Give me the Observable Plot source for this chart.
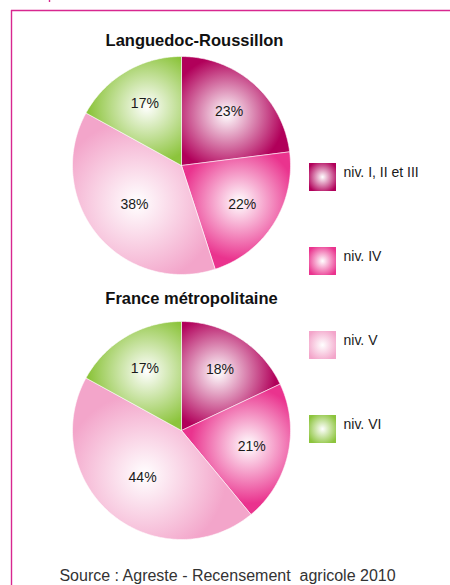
<!DOCTYPE html>
<html>
<head>
<meta charset="utf-8">
<script src="https://cdn.jsdelivr.net/npm/d3@7"></script>
<script src="https://cdn.jsdelivr.net/npm/@observablehq/plot@0.6"></script>
<style>
  html, body { margin: 0; padding: 0; background: #fff; }
  #chart svg { display: block; }
</style>
</head>
<body>
<div id="chart"></div>
<script>
// ---- data ----
const categories = ["niv. I, II et III", "niv. IV", "niv. V", "niv. VI"];
const regions = ["Languedoc-Roussillon", "France métropolitaine"];
const lrValues = [23, 22, 38, 17];
const frValues = [18, 21, 44, 17];
const colors = ["#b1005a", "#ea338e", "#f3a5ca", "#8cc43c"];
const sourceText = "Source : Agreste - Recensement  agricole 2010";

// ---- layout ----
const W = 450, H = 585;
const FONT = "'Liberation Sans', Arial, Helvetica, sans-serif";
const R = 109;
const pieLayout = [
  {cx: 181, cy: 165, titleX: 194, titleY: 40},
  {cx: 181, cy: 430, titleX: 191, titleY: 298}
];
const seriesList = [lrValues, frValues];
const legendX1 = 309, legendX2 = 336, legendY0 = 177, legendStep = 84, legendH = 28;
const borderColor = "#d8278f";

// ---- geometry derived from data ----
const slices = [];
const labels = [];
const grads = [];
seriesList.forEach((vals, p) => {
  const {cx, cy} = pieLayout[p];
  const arcs = d3.pie().sort(null).value(d => d)(vals);
  arcs.forEach((a, i) => {
    const n = Math.max(2, Math.ceil((a.endAngle - a.startAngle) / (Math.PI / 180)));
    const key = `p${p}s${i}`;
    slices.push({key, p, i, x: cx, y: cy});
    for (let k = 0; k <= n; k++) {
      const t = a.startAngle + (a.endAngle - a.startAngle) * k / n;
      slices.push({key, p, i, x: cx + R * Math.sin(t), y: cy - R * Math.cos(t)});
    }
    slices.push({key, p, i, x: cx, y: cy});
    const mid = (a.startAngle + a.endAngle) / 2;
    const frac = vals[i] / d3.sum(vals);
    const lr = R * (frac > 0.3 ? 0.56 : 0.66);
    labels.push({p, i, text: vals[i] + "%", x: cx + lr * Math.sin(mid), y: cy - lr * Math.cos(mid)});
    grads.push({id: `g-${key}`, key, i, cx: cx + lr * 0.95 * Math.sin(mid), cy: cy - lr * 0.95 * Math.cos(mid), r: frac > 0.3 ? 82 : 58});
  });
});

const legend = categories.map((c, i) => ({label: c, i, y: legendY0 + i * legendStep}));

const marks = [];
marks.push(Plot.ruleY([10], {x1: 11, x2: W, stroke: borderColor, strokeWidth: 1.4}));
marks.push(Plot.ruleX([11], {y1: 10, y2: H, stroke: borderColor, strokeWidth: 1.4}));
marks.push(Plot.ruleX([49], {y1: 0, y2: 2, stroke: borderColor, strokeWidth: 1.4}));

d3.groups(slices, d => d.key).forEach(([key, pts]) => {
  marks.push(Plot.line(pts, {x: "x", y: "y", fill: `url(#g-${key})`, stroke: "#fff", strokeWidth: 0.7, strokeOpacity: 0.8}));
});

regions.forEach((t, p) => {
  marks.push(Plot.text([t], {x: () => pieLayout[p].titleX, y: () => pieLayout[p].titleY, text: d => d,
    fontSize: 16.5, fontWeight: "bold", fill: "#111", textAnchor: "middle"}));
});

marks.push(Plot.text(labels, {x: "x", y: "y", text: "text", fontSize: 14, fill: "#1a1a1a", textAnchor: "middle"}));

legend.forEach(d => {
  marks.push(Plot.rect([d], {x1: () => legendX1, x2: () => legendX2, y1: e => e.y - legendH / 2, y2: e => e.y + legendH / 2, fill: `url(#lg${d.i})`}));
});
marks.push(Plot.text(legend, {x: () => legendX2 + 7, y: d => d.y - 4.5, text: "label", fontSize: 14, fill: "#1a1a1a", textAnchor: "start"}));

marks.push(Plot.text([sourceText], {x: () => 227, y: () => 575, text: d => d, fontSize: 16, fill: "#333", textAnchor: "middle"}));

const chart = Plot.plot({
  width: W,
  height: H,
  margin: 0,
  style: {fontFamily: FONT, background: "#fff", overflow: "visible"},
  x: {domain: [0, W], range: [0, W], axis: null},
  y: {domain: [0, H], range: [0, H], axis: null},
  marks
});

const svg = d3.select(chart.tagName.toLowerCase() === "svg" ? chart : chart.querySelector("svg"));
const defs = svg.insert("defs", ":first-child");
grads.forEach(g => {
  const rg = defs.append("radialGradient").attr("id", g.id).attr("gradientUnits", "userSpaceOnUse")
    .attr("cx", g.cx).attr("cy", g.cy).attr("r", g.r).attr("fx", g.cx).attr("fy", g.cy);
  rg.append("stop").attr("offset", "0%").attr("stop-color", "#ffffff");
  rg.append("stop").attr("offset", "100%").attr("stop-color", colors[g.i]);
});
legend.forEach(d => {
  const rg = defs.append("radialGradient").attr("id", `lg${d.i}`).attr("cx", "50%").attr("cy", "50%").attr("r", "60%");
  rg.append("stop").attr("offset", "0%").attr("stop-color", "#ffffff");
  rg.append("stop").attr("offset", "100%").attr("stop-color", colors[d.i]);
});
svg.selectAll("text").style("white-space", "pre");

document.getElementById("chart").appendChild(chart);
</script>
</body>
</html>
